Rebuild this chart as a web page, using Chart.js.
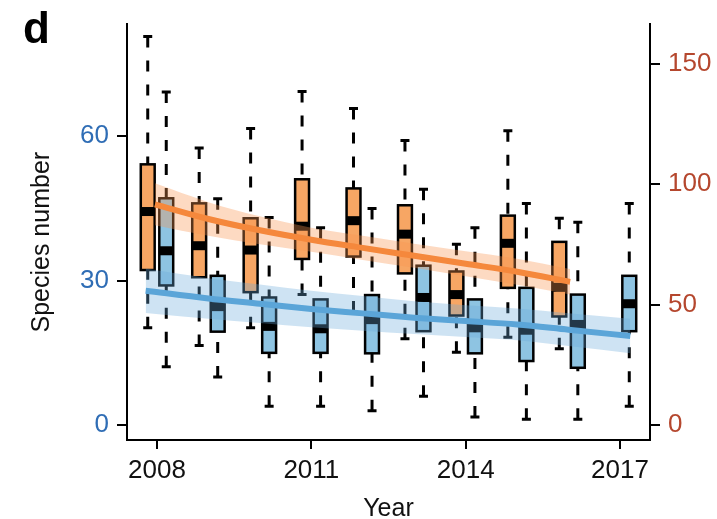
<!DOCTYPE html>
<html>
<head>
<meta charset="utf-8">
<script src="https://cdn.jsdelivr.net/npm/chart.js@4.4.1/dist/chart.umd.min.js"></script>
<style>
  html, body { margin: 0; padding: 0; background: #fff; }
  #wrap { width: 717px; height: 519px; }
</style>
</head>
<body>
<div id="wrap"><canvas id="speciesChart" width="717" height="519"></canvas></div>
<script>
// tick labels
const yearTicks = [2008, 2011, 2014, 2017];
const leftTicks = [0, 30, 60];
const rightTicks = [0, 50, 100, 150];

// orange boxes (right axis)
const orangeYears = [2008, 2009, 2010, 2011, 2012, 2013, 2014, 2015, 2016];
const orangeMin = [40.4, 33.1, 40.4, 54.2, 47.0, 35.9, 30.3, 36.5, 31.7];
const orangeQ1 = [64.4, 61.4, 55.2, 69.0, 70.0, 63.0, 45.5, 57.0, 45.1];
const orangeMedian = [88.7, 74.5, 72.7, 82.6, 84.9, 79.3, 54.2, 75.5, 57.2];
const orangeQ3 = [108.3, 92.1, 85.9, 102.1, 98.3, 91.3, 63.8, 87.0, 76.1];
const orangeMax = [161.4, 115.1, 123.2, 138.6, 131.5, 118.2, 75.1, 122.3, 85.9];

// blue boxes (left axis)
const blueYears = [2008, 2009, 2010, 2011, 2012, 2013, 2014, 2015, 2016, 2017];
const blueMin = [12.1, 10.0, 3.9, 3.9, 3.0, 6.0, 1.7, 1.2, 1.2, 3.9];
const blueQ1 = [29.0, 19.4, 15.0, 15.0, 14.9, 19.5, 14.9, 13.3, 11.9, 19.5];
const blueMedian = [36.2, 24.6, 20.5, 20.0, 21.9, 26.5, 20.2, 19.7, 20.9, 25.2];
const blueQ3 = [47.1, 31.0, 26.5, 26.1, 27.0, 33.1, 26.1, 28.5, 27.1, 31.0];
const blueMax = [69.2, 47.0, 43.1, 41.0, 45.0, 49.0, 41.0, 46.0, 42.1, 46.0];

// fitted trends with confidence bands
const orangeTrendX = [2007.96, 2009, 2010, 2011, 2012, 2013, 2014, 2015, 2016.03];
const orangeFit = [91.7, 85.6, 80.9, 77.0, 73.6, 70.3, 67.0, 63.7, 59.5];
const orangeLow = [83.0, 78.6, 75.1, 72.0, 68.6, 65.3, 61.8, 58.3, 54.2];
const orangeHigh = [100.4, 92.6, 86.7, 82.0, 78.6, 75.3, 72.2, 69.1, 64.8];

const blueTrendX = [2007.78, 2009, 2010, 2011, 2012, 2013, 2014, 2015, 2016, 2017.2];
const blueFit = [27.9, 26.3, 25.2, 24.1, 23.2, 22.3, 21.6, 20.9, 19.8, 18.5];
const blueLow = [23.3, 22.1, 21.2, 20.3, 19.6, 18.9, 18.3, 17.6, 16.4, 14.9];
const blueHigh = [32.5, 30.5, 29.2, 27.9, 26.8, 25.7, 24.9, 24.2, 23.2, 22.1];

const FONT = "'Liberation Sans', Arial, Helvetica, sans-serif";
const ORANGE = '#f7a664';
const BLUE = '#8ec4e2';
const BOX_OFFSET = 0.18;   // years, left/right of the tick
const BOX_WIDTH = 0.27;    // years

function pts(xs, ys) {
    return xs.map((x, i) => ({ x: x, y: ys[i] }));
}

function drawBoxes(ctx, xScale, yScale, years, offset, stats, fill) {
    years.forEach((yr, i) => {
        const cx = xScale.getPixelForValue(yr + offset);
        const half = xScale.getPixelForValue(yr + offset + BOX_WIDTH / 2) - cx;
        const yMin = yScale.getPixelForValue(stats.min[i]);
        const yQ1 = yScale.getPixelForValue(stats.q1[i]);
        const yMed = yScale.getPixelForValue(stats.med[i]);
        const yQ3 = yScale.getPixelForValue(stats.q3[i]);
        const yMax = yScale.getPixelForValue(stats.max[i]);

        // whiskers
        ctx.strokeStyle = '#000';
        ctx.lineWidth = 3;
        ctx.setLineDash([11, 13]);
        ctx.beginPath();
        ctx.moveTo(cx, yMax); ctx.lineTo(cx, yQ3);
        ctx.moveTo(cx, yMin); ctx.lineTo(cx, yQ1);
        ctx.stroke();
        ctx.setLineDash([]);
        ctx.beginPath();
        ctx.moveTo(cx - 4.5, yMax); ctx.lineTo(cx + 4.5, yMax);
        ctx.moveTo(cx - 4.5, yMin); ctx.lineTo(cx + 4.5, yMin);
        ctx.stroke();

        // box
        ctx.fillStyle = fill;
        ctx.fillRect(cx - half, yQ3, half * 2, yQ1 - yQ3);
        ctx.lineWidth = 2.5;
        ctx.strokeRect(cx - half, yQ3, half * 2, yQ1 - yQ3);

        // median
        ctx.fillStyle = '#000';
        ctx.fillRect(cx - half, yMed - 4.5, half * 2, 9);
    });
}

const boxPlugin = {
    id: 'boxes',
    beforeDatasetsDraw(chart) {
        const { ctx, chartArea, scales } = chart;
        ctx.save();
        ctx.beginPath();
        ctx.rect(chartArea.left, chartArea.top, chartArea.width, chartArea.height);
        ctx.clip();
        drawBoxes(ctx, scales.x, scales.y2, orangeYears, -BOX_OFFSET,
            { min: orangeMin, q1: orangeQ1, med: orangeMedian, q3: orangeQ3, max: orangeMax }, ORANGE);
        drawBoxes(ctx, scales.x, scales.y, blueYears, BOX_OFFSET,
            { min: blueMin, q1: blueQ1, med: blueMedian, q3: blueQ3, max: blueMax }, BLUE);
        ctx.restore();
    },
    afterDraw(chart) {
        const ctx = chart.ctx;
        ctx.save();
        ctx.fillStyle = '#000';
        ctx.font = 'bold 44px ' + FONT;
        ctx.textBaseline = 'alphabetic';
        ctx.fillText('d', 23, 43);
        ctx.restore();
    }
};

const axisBase = {
    border: { display: true, color: '#000', width: 2 },
    grid: { display: true, drawOnChartArea: false, drawTicks: true, tickLength: 10, color: '#000', lineWidth: 2 }
};

const ctx = document.getElementById('speciesChart').getContext('2d');
new Chart(ctx, {
    type: 'line',
    data: {
        datasets: [
            {   // orange fit
                data: pts(orangeTrendX, orangeFit), yAxisID: 'y2', order: 0,
                borderColor: '#f5883c', borderWidth: 6, pointRadius: 0,
                cubicInterpolationMode: 'monotone', fill: false
            },
            {   // blue fit
                data: pts(blueTrendX, blueFit), yAxisID: 'y', order: 0,
                borderColor: '#5ba5d8', borderWidth: 6, pointRadius: 0,
                cubicInterpolationMode: 'monotone', fill: false
            },
            {   // orange band low
                data: pts(orangeTrendX, orangeLow), yAxisID: 'y2', order: 1,
                borderWidth: 0, pointRadius: 0, cubicInterpolationMode: 'monotone', fill: false
            },
            {   // orange band high
                data: pts(orangeTrendX, orangeHigh), yAxisID: 'y2', order: 1,
                borderWidth: 0, pointRadius: 0, cubicInterpolationMode: 'monotone',
                fill: 2, backgroundColor: 'rgba(248, 150, 80, 0.35)'
            },
            {   // blue band low
                data: pts(blueTrendX, blueLow), yAxisID: 'y', order: 1,
                borderWidth: 0, pointRadius: 0, cubicInterpolationMode: 'monotone', fill: false
            },
            {   // blue band high
                data: pts(blueTrendX, blueHigh), yAxisID: 'y', order: 1,
                borderWidth: 0, pointRadius: 0, cubicInterpolationMode: 'monotone',
                fill: 4, backgroundColor: 'rgba(105, 170, 218, 0.33)'
            }
        ]
    },
    options: {
        responsive: false,
        animation: false,
        devicePixelRatio: 1,
        layout: { padding: { top: 22, left: 0, right: 0, bottom: 0 } },
        plugins: {
            legend: { display: false },
            tooltip: { enabled: false }
        },
        scales: {
            x: {
                ...axisBase,
                type: 'linear',
                min: 2007.417,
                max: 2017.583,
                grid: { ...axisBase.grid, tickLength: 9 },
                afterBuildTicks: s => { s.ticks = yearTicks.map(v => ({ value: v })); },
                afterFit: s => { s.height = 79; },
                ticks: {
                    color: '#111', padding: 6, maxRotation: 0, autoSkip: false,
                    font: { family: FONT, size: 26 },
                    callback: v => String(v)
                },
                title: {
                    display: true, text: 'Year', color: '#111',
                    font: { family: FONT, size: 25, lineHeight: 1 },
                    padding: { top: 0, bottom: -3 }
                }
            },
            y: {
                ...axisBase,
                position: 'left',
                min: -3.10,
                max: 83.38,
                afterBuildTicks: s => { s.ticks = leftTicks.map(v => ({ value: v })); },
                afterFit: s => { s.width = 127; },
                ticks: {
                    color: '#2f6db5', padding: 8,
                    font: { family: FONT, size: 26 }
                },
                title: {
                    display: true, text: 'Species number   ', color: '#111',
                    font: { family: FONT, size: 25, lineHeight: 1 },
                    padding: { top: 30, bottom: 0 }
                }
            },
            y2: {
                ...axisBase,
                position: 'right',
                min: -6.20,
                max: 166.76,
                afterBuildTicks: s => { s.ticks = rightTicks.map(v => ({ value: v })); },
                afterFit: s => { s.width = 67; },
                ticks: {
                    color: '#b5472e', padding: 8,
                    font: { family: FONT, size: 26 }
                }
            }
        }
    },
    plugins: [boxPlugin]
});
</script>
</body>
</html>
